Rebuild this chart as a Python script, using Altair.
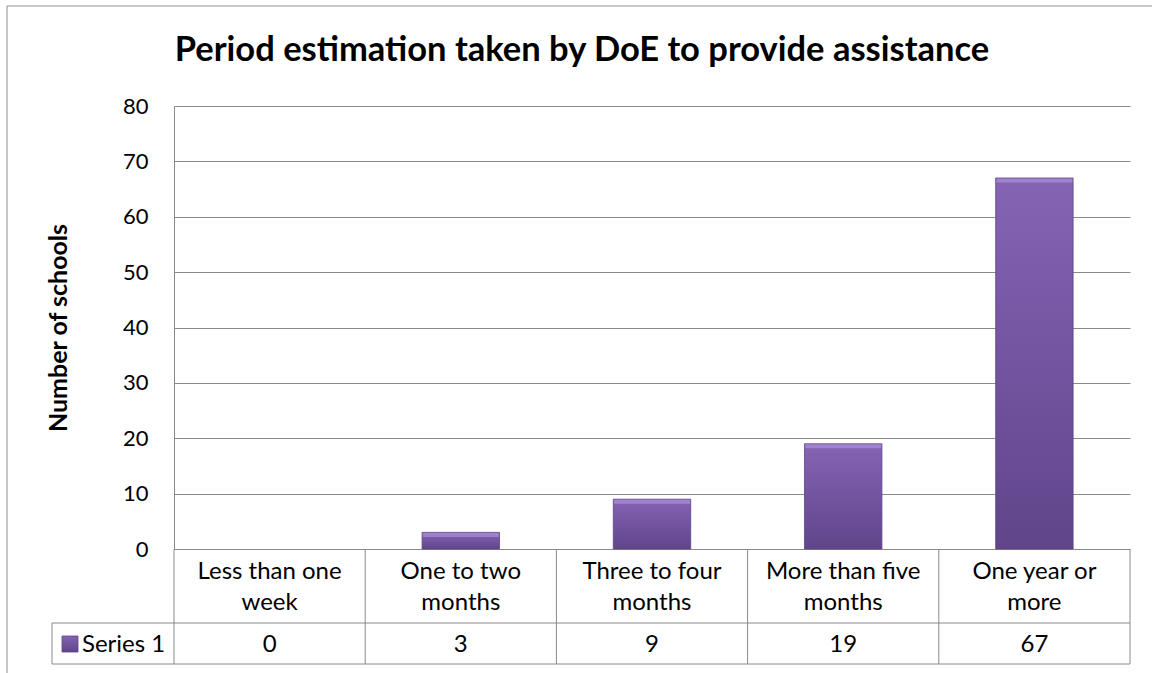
import altair as alt
import pandas as pd

# ---- data ----
categories = ["Less than one week", "One to two months", "Three to four months",
              "More than five months", "One year or more"]
category_labels = ["Less than one\nweek", "One to two\nmonths", "Three to four\nmonths",
                   "More than five\nmonths", "One year or\nmore"]
values = [0, 3, 9, 19, 67]
series_name = "Series 1"
y_ticks = [0, 10, 20, 30, 40, 50, 60, 70, 80]

df = pd.DataFrame({"cat": categories, "label": category_labels, "value": values})
df_pos = df[df["value"] > 0]
one = pd.DataFrame({"name": [series_name]})

FONT = "Lato"
GRID = "#8a8a8a"
W, H = 956, 443

xscale = alt.Scale(domain=categories, paddingInner=0, paddingOuter=0)
xenc = alt.X("cat:N", scale=xscale, sort=categories, axis=None)

bar_fill = alt.LinearGradient(
    gradient="linear",
    stops=[alt.GradientStop(color="#8564b4", offset=0),
           alt.GradientStop(color="#7354a0", offset=0.5),
           alt.GradientStop(color="#60458a", offset=1)],
    x1=0, x2=0, y1=0, y2=1,
)

bars = alt.Chart(df_pos).mark_bar(
    width=alt.RelativeBandSize(0.405), fill=bar_fill, stroke="#5d4384", strokeWidth=0.8
).encode(
    x=xenc,
    y=alt.Y("value:Q", scale=alt.Scale(domain=[0, 80], nice=False),
            axis=alt.Axis(values=y_ticks, title="Number of schools", grid=True,
                          gridColor=GRID, gridWidth=1, domainColor=GRID, domainWidth=1,
                          ticks=False, labelFont=FONT, labelFontSize=22, labelColor="#000000",
                          labelPadding=26, titleFont=FONT, titleFontSize=25,
                          titleFontWeight="bold", titleColor="#000000",
                          titleX=-116, titleY=H / 2, titleBaseline="middle",
                          titleAngle=-90)),
)

bevel = alt.Chart(df_pos).mark_tick(
    thickness=4, size=76, color="#ab90da", yOffset=2.5
).encode(x=xenc, y=alt.Y("value:Q"))

# table: vertical separators at band starts
seps = alt.Chart(df).mark_rule(color=GRID, strokeWidth=1).encode(
    x=alt.X("cat:N", scale=xscale, sort=categories, axis=None, bandPosition=0),
    y=alt.value(H), y2=alt.value(H + 115),
)
right_edge = alt.Chart(one).mark_rule(color=GRID, strokeWidth=1).encode(
    x=alt.value(W), y=alt.value(H), y2=alt.value(H + 115))
row_line1 = alt.Chart(one).mark_rule(color=GRID, strokeWidth=1).encode(
    x=alt.value(-122), x2=alt.value(W), y=alt.value(H + 74))
row_line2 = alt.Chart(one).mark_rule(color=GRID, strokeWidth=1).encode(
    x=alt.value(-122), x2=alt.value(W), y=alt.value(H + 115))
leg_left = alt.Chart(one).mark_rule(color=GRID, strokeWidth=1).encode(
    x=alt.value(-122), y=alt.value(H + 74), y2=alt.value(H + 115))

# outer chart border (top and left)
border_top = alt.Chart(one).mark_rule(color="#8f8f8f", strokeWidth=1).encode(
    x=alt.value(-167), x2=alt.value(978), y=alt.value(-100))
border_left = alt.Chart(one).mark_rule(color="#8f8f8f", strokeWidth=1).encode(
    x=alt.value(-167), y=alt.value(-100), y2=alt.value(567))

cat_text = alt.Chart(df).mark_text(
    font=FONT, fontSize=24, lineBreak="\n", lineHeight=30.7, baseline="alphabetic",
    color="#000000"
).encode(x=xenc, y=alt.value(473.3), text="label:N")

val_text = alt.Chart(df).mark_text(
    font=FONT, fontSize=24, baseline="alphabetic", color="#000000"
).encode(x=xenc, y=alt.value(545.7), text="value:Q")

leg_key = alt.Chart(one).mark_square(
    size=256, fill=bar_fill, stroke="#5d4384", strokeWidth=0.8, opacity=1
).encode(x=alt.value(-104), y=alt.value(538))
leg_text = alt.Chart(one).mark_text(
    font=FONT, fontSize=24, baseline="alphabetic", align="left", color="#000000"
).encode(x=alt.value(-92), y=alt.value(545.7), text="name:N")

chart = alt.layer(
    border_top, border_left, bars, bevel, seps, right_edge, row_line1, row_line2,
    leg_left, cat_text, val_text, leg_key, leg_text
).properties(
    width=W, height=H,
    title=alt.TitleParams(
        "Period estimation taken by DoE to provide assistance",
        font=FONT, fontSize=34.5, fontWeight="bold", color="#000000",
        anchor="middle", frame="group", dx=-70, dy=90, baseline="alphabetic", offset=0,
    ),
    autosize=alt.AutoSizeParams(type="none"),
    padding={"left": 174, "top": 106, "right": 22, "bottom": 124},
    background="#ffffff",
).configure_view(stroke=None)

chart.save("out.html", embed_options={"renderer": "svg", "actions": False})
